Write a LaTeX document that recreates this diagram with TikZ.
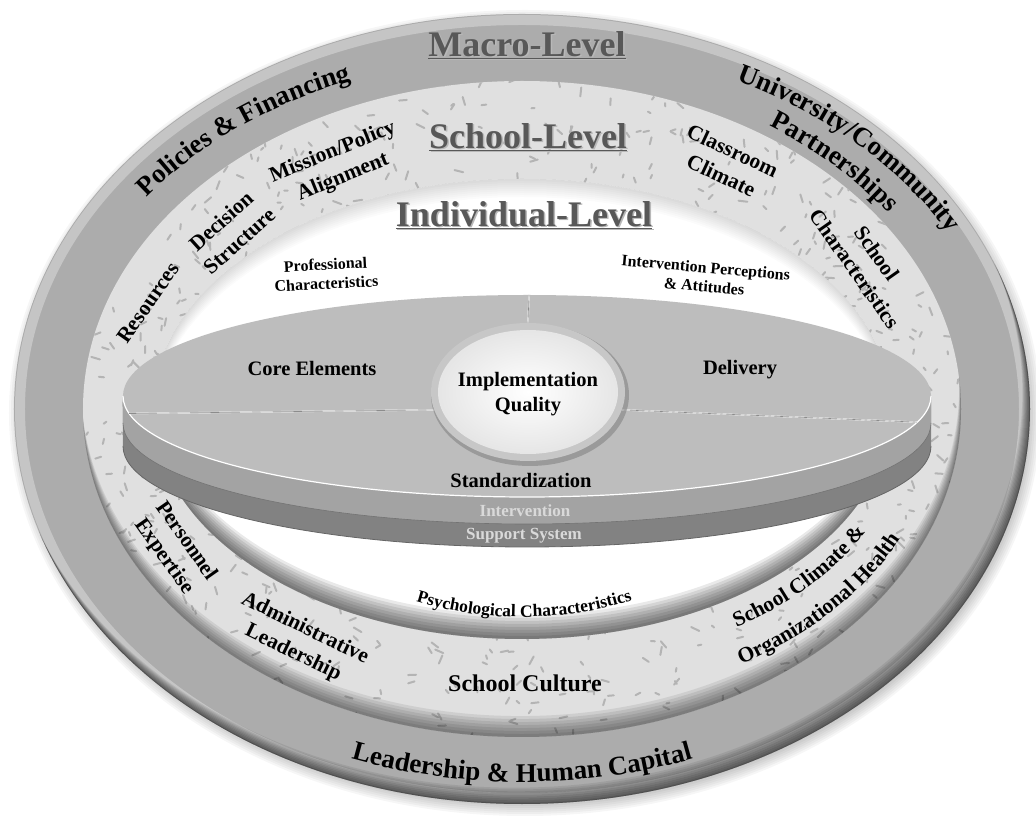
\documentclass[tikz,border=0pt]{standalone}
\usepackage{fontspec}
\setmainfont{Liberation Serif}
\usetikzlibrary{decorations.text}

\definecolor{macrogray}{RGB}{172,172,172}
\definecolor{schoolgray}{RGB}{224,224,224}
\definecolor{fleckgray}{RGB}{180,180,180}
\definecolor{facegray}{RGB}{189,189,189}
\definecolor{bandgray}{RGB}{163,163,163}
\definecolor{supportgray}{RGB}{130,130,130}
\definecolor{headgray}{RGB}{88,88,88}

\newcommand{\headfont}{\fontsize{36}{40}\selectfont\bfseries}
\newcommand{\macrofont}{\fontsize{27}{30}\selectfont\bfseries}
\newcommand{\schoolfont}{\fontsize{21.5}{27}\selectfont\bfseries}
\newcommand{\diskfont}{\fontsize{20.5}{25}\selectfont\bfseries}
\newcommand{\smallfont}{\fontsize{16}{19}\selectfont\bfseries}
\newcommand{\psyfont}{\fontsize{17.5}{20}\selectfont\bfseries}

\newcommand{\rimshade}[6]{%
  \begin{scope}
    \clip (0,0) ellipse [x radius=#1, y radius=#2];
    \foreach \k in {#6}
      \fill[#3, opacity=#5, even odd rule] (0,0) ellipse [x radius=#1+40, y radius=#2+40]
        (#4:\k) ellipse [x radius=#1, y radius=#2];
  \end{scope}}

\newcommand{\arctext}[6]{%
  \path[decorate, decoration={text along path, text align=center, text={|#1|#6}}]
    (#4:#2 and #3) arc[start angle=#4, end angle=#5, x radius=#2, y radius=#3];}

\tikzset{
  heading/.style={font=\headfont, text=headgray, inner sep=0},
  headshade/.style={font=\headfont, text=white!72!black, inner sep=0},
  ringlabel/.style={font=\schoolfont, align=center, inner sep=0},
  disklabel/.style={font=\diskfont, align=center, inner sep=0},
  smalllabel/.style={font=\smallfont, align=center, inner sep=0},
  bandlabel/.style={font={\fontsize{17}{20}\selectfont\bfseries}, text=white!85!black, inner sep=0},
  fleck/.style={draw=fleckgray, line width=2pt, line cap=round},
  divider/.style={draw=white, line width=1.4pt},
  groove/.style={draw=black!45, line width=0.6pt}
}

\begin{document}
\begin{tikzpicture}[x=1pt,y=1pt]
\useasboundingbox (-522,-409) rectangle (514,409);

\foreach \k in {1,...,8}
  \fill[black, opacity=0.035] (3,-4) ellipse [x radius=500+2*\k, y radius=387+2*\k];

\fill[macrogray] (0,0) ellipse [x radius=508, y radius=395];
\draw[white, opacity=0.3, line width=10pt] (0,0) ellipse [x radius=502, y radius=389];
\rimshade{508}{395}{black}{115}{0.08}{2,4,...,18}

\fill[schoolgray] (0,0) ellipse [x radius=439, y radius=328];
\begin{scope}
  \clip (0,0) ellipse [x radius=439, y radius=328];
  \pgfmathsetseed{11}
  \foreach \k in {1,...,480}{
    \pgfmathsetmacro{\fa}{360*rnd}
    \pgfmathsetmacro{\fs}{1.1*rnd-0.05}
    \pgfmathsetmacro{\fr}{360*rnd}
    \pgfmathsetmacro{\fl}{3+6*rnd}
    \draw[fleck] ({(369+71*\fs)*cos(\fa)},{(230+98*\fs)*sin(\fa)}) -- ++(\fr:\fl);
  }
\end{scope}
\rimshade{439}{328}{black}{95}{0.08}{3,6,...,21}

\fill[white] (0,0) ellipse [x radius=369, y radius=230];
\rimshade{369}{230}{black}{90}{0.085}{3,6,...,24}
\rimshade{369}{230}{black}{270}{0.015}{2,4,...,18}

\node[headshade] (macro-shade) at (6.5,362.5) {\underline{Macro-Level}};
\node[heading] (macro) at (5,364) {\underline{Macro-Level}};
\node[headshade] (school-shade) at (7.5,270.5) {\underline{School-Level}};
\node[heading] (school) at (6,272) {\underline{School-Level}};
\node[headshade] (individual-shade) at (3.5,192.5) {\underline{Individual-Level}};
\node[heading] (individual) at (2,194) {\underline{Individual-Level}};

\arctext{\macrofont}{469}{353}{153}{103}{Policies {\&} Financing}
\arctext{\macrofont}{486}{366}{71}{20}{University/Community}
\arctext{\macrofont}{449}{339}{68}{22}{Partnerships}
\arctext{\macrofont}{490}{373}{225}{315}{Leadership {\&} Human Capital}

\node[ringlabel, rotate=55] (resources) at (-374,106) {Resources};
\node[ringlabel, rotate=42] (decision) at (-292,178) {Decision\\Structure};
\node[ringlabel, rotate=22] (mission) at (-184,244) {Mission/Policy\\Alignment};
\node[ringlabel, rotate=-25] (classroom) at (205,246) {Classroom\\Climate};
\node[ringlabel, rotate=-55] (schoolchar) at (344,148) {School\\Characteristics};
\node[ringlabel, rotate=-55] (personnel) at (-347,-140) {Personnel\\Expertise};
\node[ringlabel, rotate=-26] (admin) at (-223,-232) {Administrative\\Leadership};
\node[font={\fontsize{24}{28}\selectfont\bfseries}, inner sep=0] (culture) at (3,-274) {School Culture};
\arctext{\schoolfont}{390}{262}{294}{344}{School Climate {\&}}
\arctext{\schoolfont}{420}{300}{293}{345}{Organizational Health}

\node[smalllabel, rotate=3] (professional) at (-196,135) {Professional\\Characteristics};
\node[smalllabel, rotate=-5] (perceptions) at (183,132) {Intervention Perceptions\\\& Attitudes};
\arctext{\psyfont}{280}{208}{230}{311}{Psychological Characteristics}

\coordinate (face) at (5,13);
\coordinate (hub) at (6,17);
\begin{scope}[shift={(5,13)}]
  \fill[supportgray] (-404,0) -- (-404,-50) arc[start angle=180, end angle=360, x radius=404, y radius=101] -- (404,0) -- cycle;
  \draw[black!60, line width=0.8pt] (-404,-50) arc[start angle=180, end angle=360, x radius=404, y radius=101];
  \fill[bandgray] (-404,0) -- (-404,-27) arc[start angle=180, end angle=360, x radius=404, y radius=101] -- (404,0) -- cycle;
  \draw[black!55, line width=0.6pt] (-404,-27) arc[start angle=180, end angle=360, x radius=404, y radius=101];
  \fill[facegray] (0,0) ellipse [x radius=404, y radius=101];
  \draw[white, line width=1.2pt] (-404,0) arc[start angle=180, end angle=360, x radius=404, y radius=101];
\end{scope}

\draw[divider] ([shift={(0,69)}]hub) -- ([shift={(2,101)}]face);
\draw[groove, xshift=-1pt] ([shift={(0,69)}]hub) -- ([shift={(2,101)}]face);
\draw[divider] ([shift={(195:97 and 69)}]hub) -- ([shift={(190:404 and 101)}]face);
\draw[groove, yshift=1.2pt] ([shift={(195:97 and 69)}]hub) -- ([shift={(190:404 and 101)}]face);
\draw[divider] ([shift={(345:97 and 69)}]hub) -- ([shift={(345:404 and 101)}]face);
\draw[groove, yshift=1.2pt] ([shift={(345:97 and 69)}]hub) -- ([shift={(345:404 and 101)}]face);

\fill[black, opacity=0.18] ([shift={(2,-3)}]hub) ellipse [x radius=99, y radius=71];
\fill[white!78!black] (hub) ellipse [x radius=97, y radius=69];
\shade[inner color=white, outer color=white!90!black] (hub) ellipse [x radius=90, y radius=62];

\node[disklabel] (core) at (-210,41) {Core Elements};
\node[disklabel] (delivery) at (218,39) {Delivery};
\node[disklabel] (quality) at (6,15) {Implementation\\Quality};
\node[disklabel] (standard) at (-1,-71) {Standardization};
\node[bandlabel] (intervention) at (3,-102) {Intervention};
\node[bandlabel] (support) at (2,-127) {Support System};
\end{tikzpicture}
\end{document}
